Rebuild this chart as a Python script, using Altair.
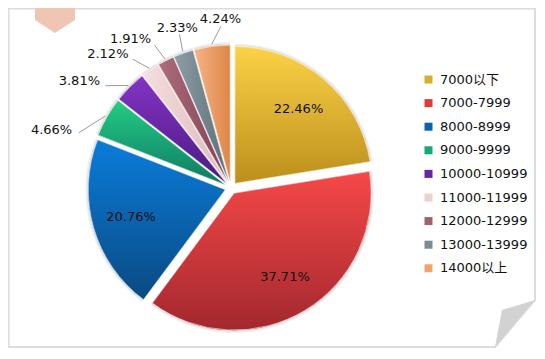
import altair as alt
import pandas as pd

# ---- data ----
categories = ["7000以下", "7000-7999", "8000-8999", "9000-9999", "10000-10999",
              "11000-11999", "12000-12999", "13000-13999", "14000以上"]
shares = [22.46, 37.71, 20.76, 4.66, 3.81, 2.12, 1.91, 2.33, 4.24]
labels = ["22.46%", "37.71%", "20.76%", "4.66%", "3.81%", "2.12%", "1.91%", "2.33%", "4.24%"]

# ---- style ----
legend_colors = ["#D9AE2C", "#E03A3A", "#0A62B0", "#15A878", "#6A24A8",
                 "#EDD0D0", "#A06070", "#7C8C94", "#F0A468"]
grad_light = ["#FCD246", "#F64848", "#0A7CDA", "#24CC86", "#8434C4",
              "#F6DEDE", "#AE6C7C", "#8E9EA6", "#F6B488"]
grad_dark = ["#BC8E1C", "#A2282E", "#0A4A82", "#0E7A62", "#4A1A82",
             "#DCBABA", "#7E4252", "#5E6E76", "#DE8646"]
grad_dir = ["v", "v", "v", "v", "v", "h", "h", "h", "h"]

FONT = "DejaVu Sans, Noto Sans CJK SC"
W, H = 529, 343
CX, CY, R, EXPLODE = 223, 180, 137, 6
R_IN, R_LBL = 98, 163
PIVOT, SPREAD = 5.882, 1.273   # outside labels fanned out around this angle

df = pd.DataFrame({"cat": categories, "share": shares, "label": labels,
                   "order": list(range(len(categories)))})

base = alt.Chart(df).transform_window(
    cum="sum(share)", sort=[alt.SortField("order")], frame=[None, 0]
).transform_calculate(
    t0="2*PI*(datum.cum - datum.share)/100",
    t1="2*PI*datum.cum/100",
).transform_calculate(
    mid="(datum.t0 + datum.t1)/2",
).transform_calculate(
    ox=f"{CX} + {EXPLODE}*sin(datum.mid)",
    oy=f"{CY} - {EXPLODE}*cos(datum.mid)",
    la=f"{PIVOT} + {SPREAD}*(datum.mid - {PIVOT})",
).transform_calculate(
    ix=f"datum.ox + {R_IN}*sin(datum.mid)",
    iy=f"datum.oy - {R_IN}*cos(datum.mid)",
    ax=f"datum.ox + {R + 2}*sin(datum.mid)",
    ay=f"datum.oy - {R + 2}*cos(datum.mid)",
    bx=f"datum.ox + {R_LBL - 7}*sin(datum.la)",
    by=f"datum.oy - {R_LBL - 7}*cos(datum.la)",
    tx=f"datum.ox + {R_LBL}*sin(datum.la)",
    ty=f"datum.oy - {R_LBL}*cos(datum.la)",
)

arc_enc = dict(
    theta=alt.Theta("t0:Q", scale=None, stack=None),
    theta2=alt.Theta2("t1:Q"),
    x=alt.X("ox:Q", scale=None),
    y=alt.Y("oy:Q", scale=None),
)

shadow1 = base.mark_arc(outerRadius=R + 3, color="#000000", opacity=0.05).encode(**arc_enc)
shadow2 = base.mark_arc(outerRadius=R + 1.5, color="#000000", opacity=0.08).encode(**arc_enc)

solid = base.mark_arc(outerRadius=R).encode(
    color=alt.Color(
        "cat:N",
        scale=alt.Scale(domain=categories, range=legend_colors),
        legend=alt.Legend(
            title=None, orient="none", legendX=414, legendY=65,
            symbolType="square", symbolSize=64, symbolStrokeWidth=0,
            labelFont=FONT, labelFontSize=13, labelColor="#111111",
            rowPadding=9.6, labelOffset=5, padding=0,
        ),
    ),
    **arc_enc,
)

grad_layers = []
for i, c in enumerate(categories):
    if grad_dir[i] == "v":
        g = dict(x1=0, y1=0, x2=0, y2=1)
    else:
        g = dict(x1=0, y1=0, x2=1, y2=0)
    fill = alt.LinearGradient(
        gradient="linear",
        stops=[alt.GradientStop(color=grad_light[i], offset=0),
               alt.GradientStop(color=grad_dark[i], offset=1)],
        **g,
    )
    grad_layers.append(
        base.transform_filter(alt.datum.cat == c)
        .mark_arc(outerRadius=R, fill=fill, stroke="#ffffff", strokeWidth=0.6)
        .encode(**arc_enc)
    )

inner_text = base.transform_filter("datum.share > 10").mark_text(
    font=FONT, fontSize=13, color="#111111"
).encode(x=alt.X("ix:Q", scale=None), y=alt.Y("iy:Q", scale=None), text="label:N")

leaders = base.transform_filter("datum.share < 10").mark_rule(
    color="#9a9a9a", strokeWidth=1
).encode(x=alt.X("ax:Q", scale=None), y=alt.Y("ay:Q", scale=None),
         x2=alt.X2("bx:Q"), y2=alt.Y2("by:Q"))

outer_left = base.transform_filter("datum.share < 10 && datum.la < 5.9").mark_text(
    font=FONT, fontSize=13, color="#111111", align="right", baseline="middle"
).encode(x=alt.X("tx:Q", scale=None), y=alt.Y("ty:Q", scale=None), text="label:N")

outer_top = base.transform_filter("datum.share < 10 && datum.la >= 5.9").mark_text(
    font=FONT, fontSize=13, color="#111111", align="center", baseline="middle"
).encode(x=alt.X("tx:Q", scale=None), y=alt.Y("ty:Q", scale=None), text="label:N")

# ---- decorations (frame, banner, page curl) ----
deco = alt.Chart(pd.DataFrame({"k": [0]}))
frame = deco.mark_point(
    shape="M 0.5 0.5 L 527 0.5 L 527 292 L 487 339 L 0.5 339 Z",
    size=4, filled=False, stroke="#DCDCDC", strokeWidth=2, opacity=1,
).encode(x=alt.value(0), y=alt.value(0))
fold = deco.mark_point(
    shape="M 494 302 L 527 292 L 487 339 Z",
    size=4, filled=True, fill="#D2D2D2", strokeWidth=0, opacity=1,
).encode(x=alt.value(0), y=alt.value(0))
banner = deco.mark_point(
    shape="M 27 -8 L 67 -8 L 67 12 L 47 25 L 27 12 Z",
    size=4, filled=True, fill="#EFC6B4", strokeWidth=0, opacity=1,
).encode(x=alt.value(0), y=alt.value(0))

chart = alt.layer(
    frame, fold, banner, shadow1, shadow2, solid, *grad_layers,
    leaders, inner_text, outer_left, outer_top,
).properties(
    width=W, height=H, padding=0, autosize=alt.AutoSizeParams(type="none"),
    background="#ffffff",
).configure_view(stroke=None)

chart.save("out.html", embed_options={"renderer": "svg", "actions": False})
